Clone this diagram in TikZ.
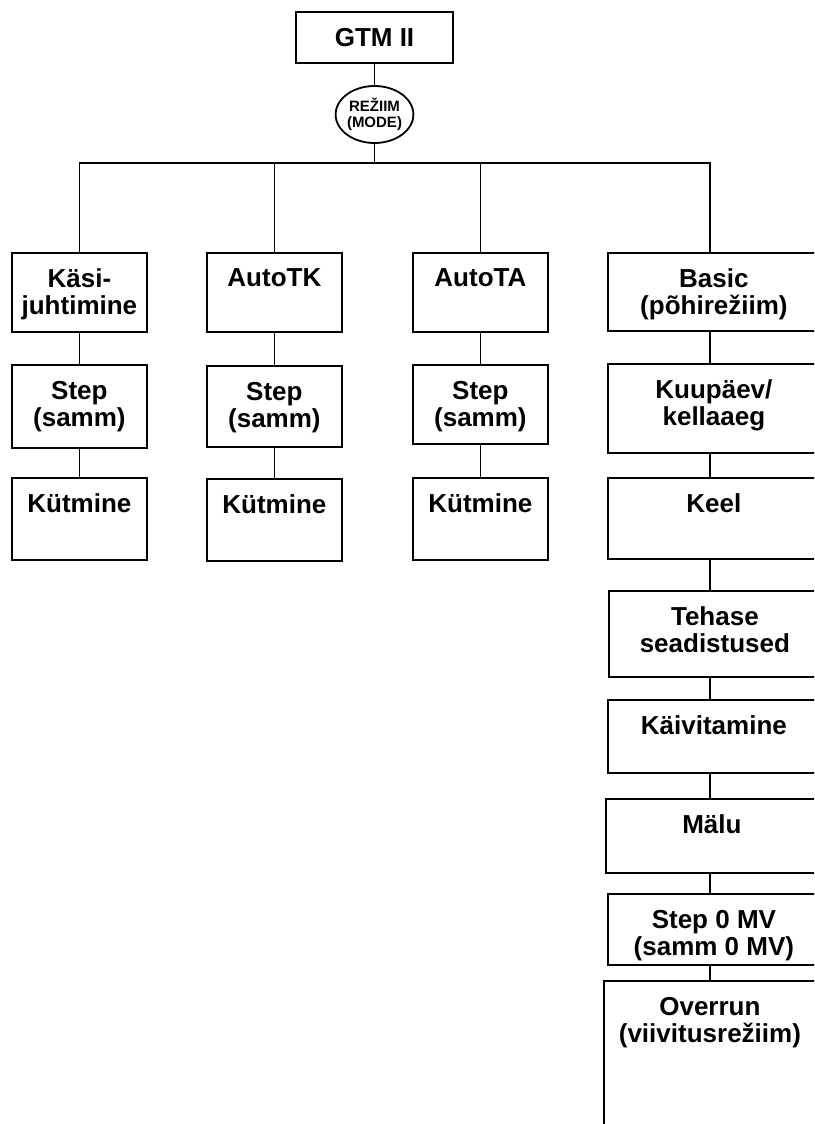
\documentclass[tikz,border=0pt]{standalone}
\usepackage{fontspec}
\setmainfont{Liberation Sans}
\usetikzlibrary{shapes.geometric}

\begin{document}
\begin{tikzpicture}[x=1pt, y=-1pt, line width=1.8pt]
        \tikzstyle{txt}=[anchor=north, yshift=-16pt, align=center, inner sep=0pt, font=\fontsize{26}{27}\selectfont\bfseries]
        \tikzstyle{box}=[rectangle, draw=black, anchor=north west, inner sep=0pt, minimum width=135pt]
        \tikzstyle{wide}=[box, minimum width=212pt]
        \tikzstyle{mode}=[ellipse, draw=black, inner sep=0pt, minimum width=69pt, minimum height=57pt, align=center, font=\fontsize{15}{16}\selectfont\bfseries]

        \clip (0,0) rectangle (814,1124);

        \node[rectangle, draw=black, minimum width=157pt, minimum height=51pt, font=\fontsize{26}{27}\selectfont\bfseries] (gtm) at (374.5,37.5) {GTM II};
        \node[mode] (mode) at (374.5,114.5) {REŽIIM\\(MODE)};

        % Käsijuhtimine
        \node[box, minimum height=79pt, label={[txt]north:Käsi-\\juhtimine}] (kasi) at (11,252) {};
        \node[box, minimum height=83pt, label={[txt]north:Step\\(samm)}] (kasistep) at (11,364) {};
        \node[box, minimum height=82pt, label={[txt]north:Kütmine}] (kasikyt) at (11,477) {};
        % AutoTK
        \node[box, minimum height=79pt, label={[txt]north:AutoTK}] (tk) at (206,252) {};
        \node[box, minimum height=81pt, label={[txt]north:Step\\(samm)}] (tkstep) at (206,365) {};
        \node[box, minimum height=82pt, label={[txt]north:Kütmine}] (tkkyt) at (206,478) {};
        % AutoTA
        \node[box, minimum height=79pt, label={[txt]north:AutoTA}] (ta) at (412,252) {};
        \node[box, minimum height=79pt, label={[txt]north:Step\\(samm)}] (tastep) at (412,364) {};
        \node[box, minimum height=82pt, label={[txt]north:Kütmine}] (takyt) at (412,477) {};
        % Basic
        \node[wide, minimum height=78pt, label={[txt]north:Basic\\(põhirežiim)}] (basic) at (607,252) {};
        \node[wide, minimum height=89pt, label={[txt]north:Kuupäev/\\kellaaeg}] (kuup) at (607,363) {};
        \node[wide, minimum height=81pt, label={[txt]north:Keel}] (keel) at (607,477) {};
        \node[wide, minimum height=86pt, label={[txt]north:Tehase\\seadistused}] (tehase) at (608,590) {};
        \node[wide, minimum height=73pt, label={[txt]north:Käivitamine}] (kaiv) at (607,699) {};
        \node[wide, minimum height=74pt, label={[txt]north:Mälu}] (malu) at (605,798) {};
        \node[wide, minimum height=71pt, label={[txt]north:Step 0 MV\\(samm 0 MV)}] (stepnull) at (607,893) {};
        \node[wide, minimum height=200pt, label={[txt]north:Overrun\\(viivitusrežiim)}] (overrun) at (603,980) {};

        \coordinate (bar) at (374.5,163);
        \coordinate (spine) at (710,0);

        \draw (gtm) -- (mode);
        \draw (mode) -- (bar);
        \draw (kasi.north) |- (bar -| spine) -- (basic.north -| spine);
        \draw (tk.north) -- (tk.north |- bar);
        \draw (ta.north) -- (ta.north |- bar);

        \draw (kasi) -- (kasistep);
        \draw (kasistep) -- (kasikyt);
        \draw (tk) -- (tkstep);
        \draw (tkstep) -- (tkkyt);
        \draw (ta) -- (tastep);
        \draw (tastep) -- (takyt);

        \draw (basic.south -| spine) -- (kuup.north -| spine);
        \draw (kuup.south -| spine) -- (keel.north -| spine);
        \draw (keel.south -| spine) -- (tehase.north -| spine);
        \draw (tehase.south -| spine) -- (kaiv.north -| spine);
        \draw (kaiv.south -| spine) -- (malu.north -| spine);
        \draw (malu.south -| spine) -- (stepnull.north -| spine);
        \draw (stepnull.south -| spine) -- (overrun.north -| spine);
    \end{tikzpicture}
\end{document}
